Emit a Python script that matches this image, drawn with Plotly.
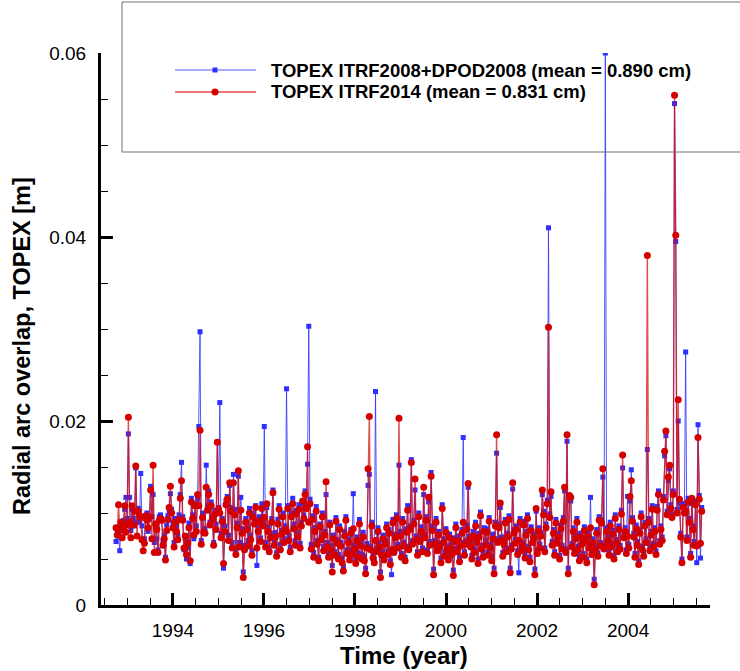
import numpy as np
import plotly.graph_objects as go

# TOPEX arc times: first arc epoch and cycle length (days)
T0_YEAR = 1992.75
CYCLE_DAYS = 9.9156

# Radial arc overlap values in millimetres
red_mm = [
    8.4, 7.6, 10.9, 8.2, 9.0, 7.3, 8.6, 10.8, 7.9, 8.7,
    20.4, 9.0, 7.3, 10.8, 8.7, 10.2, 15.1, 7.5, 10.2, 9.7,
    9.5, 7.1, 5.9, 6.7, 9.7, 9.2, 8.4, 9.6, 12.5, 7.2,
    15.2, 5.7, 8.8, 8.2, 5.7, 9.2, 9.4, 9.2, 6.5, 7.2,
    4.9, 8.1, 9.3, 10.6, 12.9, 10.0, 8.4, 6.3, 9.0, 8.0,
    7.1, 9.3, 11.6, 13.5, 9.2, 6.2, 7.5, 5.5, 6.7, 8.4,
    4.8, 11.2, 9.4, 7.6, 10.8, 8.0, 12.0, 10.8, 19.0, 6.6,
    9.5, 7.9, 7.8, 12.8, 10.3, 12.0, 8.7, 10.8, 9.3, 6.5,
    9.9, 8.2, 17.7, 10.4, 10.0, 7.3, 9.1, 4.5, 8.0, 10.9,
    11.5, 7.0, 13.3, 10.2, 6.2, 13.3, 9.8, 5.5, 8.4, 14.6,
    6.3, 10.3, 7.8, 3.0, 6.0, 9.0, 8.2, 6.4, 10.0, 7.1,
    5.4, 9.5, 8.8, 10.6, 6.2, 8.0, 9.1, 6.9, 10.5, 8.6,
    9.5, 6.3, 11.0, 8.0, 5.8, 7.3, 9.0, 12.2, 6.5, 7.4,
    5.3, 8.8, 10.4, 6.0, 7.7, 9.6, 6.8, 8.2, 8.0, 10.5,
    7.0, 5.8, 9.6, 11.0, 8.3, 6.5, 9.9, 7.4, 10.4, 6.2,
    8.6, 11.3, 9.4, 12.0, 10.5, 17.2, 9.0, 11.0, 6.1, 9.3,
    5.2, 8.0, 10.2, 6.6, 4.8, 8.5, 7.1, 9.6, 5.9, 7.6,
    13.4, 6.3, 5.2, 8.7, 6.0, 3.6, 7.2, 5.4, 9.1, 6.7,
    5.0, 8.2, 6.4, 4.6, 3.7, 7.5, 9.2, 5.6, 6.8, 4.9,
    7.8, 5.5, 8.3, 6.1, 4.5, 7.0, 5.2, 8.8, 6.4, 5.0,
    7.4, 4.8, 3.4, 6.2, 14.8, 20.5, 6.0, 8.6, 5.1, 4.6,
    7.0, 5.8, 8.0, 6.3, 3.0, 5.4, 7.2, 4.9, 6.6, 8.4,
    5.5, 7.8, 4.4, 6.0, 8.9, 5.7, 7.3, 9.4, 6.2, 20.3,
    7.5, 5.2, 9.0, 6.4, 4.8, 7.9, 10.3, 6.0, 8.2, 15.5,
    6.6, 8.8, 13.7, 7.1, 5.4, 9.6, 6.9, 8.0, 5.8, 12.8,
    7.3, 9.2, 5.6, 11.7, 6.5, 14.0, 8.1, 3.3, 6.6, 9.0,
    5.9, 7.6, 6.3, 4.6, 10.5, 6.8, 5.3, 7.9, 6.0, 4.9,
    7.3, 6.2, 5.5, 3.2, 6.9, 8.4, 5.8, 7.0, 4.7, 6.4,
    7.8, 9.0, 5.4, 6.6, 8.2, 13.2, 7.1, 6.3, 5.0, 7.5,
    5.7, 8.6, 6.8, 4.5, 7.4, 9.7, 6.1, 5.2, 8.0, 6.5,
    7.9, 5.4, 9.1, 6.2, 4.8, 7.2, 3.4, 8.6, 18.5, 6.8,
    8.4, 11.1, 7.0, 5.3, 6.6, 8.9, 5.8, 7.4, 9.3, 3.5,
    6.1, 13.3, 7.8, 6.7, 8.2, 5.5, 7.0, 9.0, 5.9, 6.4,
    8.7, 5.1, 7.6, 9.4, 6.0, 4.7, 8.1, 6.8, 7.3, 3.3,
    10.5, 5.6, 8.0, 6.2, 7.5, 12.5, 9.8, 5.8, 8.4, 11.0,
    30.2, 9.5, 12.3, 6.5, 7.8, 5.4, 8.9, 6.7, 7.4, 5.0,
    8.3, 6.1, 9.1, 12.8, 5.7, 18.5, 3.4, 11.9, 11.7, 6.3,
    8.0, 5.6, 7.2, 9.0, 6.0, 4.8, 7.4, 6.6, 5.2, 8.1,
    6.9, 4.6, 7.5, 6.2, 8.4, 5.5, 6.8, 2.2, 6.0, 7.8,
    5.3, 9.2, 6.4, 8.9, 14.8, 6.1, 6.4, 8.0, 7.0, 5.4,
    8.6, 6.3, 7.7, 5.0, 9.4, 6.7, 5.8, 8.2, 6.1, 9.9,
    16.3, 7.3, 8.0, 5.6, 7.5, 6.2, 11.8, 13.5, 9.1, 7.4,
    5.2, 8.3, 6.5, 4.4, 7.8, 9.6, 6.0, 5.3, 8.6, 6.8,
    38.0, 9.0, 5.9, 7.6, 10.4, 6.3, 8.0, 5.5, 10.3, 12.0,
    6.6, 8.2, 7.0, 11.4, 16.7, 18.9, 9.8, 13.9, 15.2, 10.5,
    9.5, 12.0, 55.4, 40.2, 10.0, 22.3, 11.5, 7.4, 4.6, 10.6,
    10.0, 10.2, 7.0, 11.2, 9.0, 5.2, 11.6, 8.2, 6.5, 10.9,
    6.4, 18.2, 11.5, 6.7, 10.2,
]

blue_mm = [
    6.9, 8.0, 7.5, 5.9, 8.7, 8.1, 9.2, 10.4, 11.7, 9.4,
    18.6, 11.7, 8.1, 10.4, 9.4, 8.6, 14.9, 9.0, 10.5, 9.0,
    14.3, 8.6, 7.0, 7.2, 9.4, 10.0, 8.0, 9.3, 12.9, 9.6,
    12.0, 6.8, 8.5, 7.2, 6.0, 9.6, 9.8, 9.4, 7.0, 7.6,
    5.2, 8.7, 9.7, 10.2, 12.1, 10.4, 9.0, 6.8, 9.4, 8.6,
    7.6, 9.8, 12.0, 15.5, 9.6, 6.0, 7.2, 5.0, 6.2, 8.9,
    4.5, 11.6, 9.8, 7.2, 11.0, 8.6, 11.5, 19.4, 29.7, 7.0,
    10.0, 8.2, 8.3, 15.2, 10.8, 12.4, 9.0, 11.2, 9.6, 6.8,
    10.3, 8.8, 17.7, 10.6, 22.0, 7.8, 9.4, 4.0, 8.6, 11.3,
    11.8, 7.6, 13.0, 10.6, 6.8, 14.2, 10.4, 6.0, 8.9, 14.0,
    6.8, 11.7, 8.3, 3.6, 6.5, 9.4, 8.6, 7.0, 10.5, 7.6,
    5.9, 10.0, 9.2, 10.8, 4.3, 8.4, 9.6, 7.3, 11.0, 9.0,
    19.4, 6.8, 10.6, 8.5, 6.2, 7.8, 9.4, 12.5, 6.9, 7.9,
    5.7, 9.3, 10.8, 6.6, 8.1, 10.0, 7.2, 8.6, 23.5, 10.8,
    7.5, 6.3, 10.0, 11.6, 8.8, 7.0, 10.3, 7.9, 10.9, 6.7,
    9.0, 11.0, 9.8, 12.4, 10.9, 15.3, 30.3, 11.5, 6.6, 9.7,
    5.7, 8.4, 10.7, 7.0, 5.2, 8.8, 7.5, 10.0, 6.4, 8.0,
    12.0, 6.8, 5.6, 9.0, 6.5, 4.3, 7.6, 5.8, 9.5, 7.1,
    5.5, 8.6, 6.8, 5.1, 4.2, 8.0, 9.6, 6.0, 7.2, 5.3,
    8.2, 6.0, 12.1, 6.5, 5.0, 7.4, 5.7, 9.3, 6.8, 5.5,
    7.9, 5.3, 4.0, 6.7, 13.0, 14.2, 6.4, 9.0, 5.6, 5.0,
    23.2, 6.2, 8.4, 6.8, 3.6, 5.8, 7.6, 5.3, 7.0, 8.8,
    5.9, 8.2, 4.8, 3.3, 9.3, 6.1, 7.7, 9.8, 6.6, 15.2,
    8.0, 5.6, 9.4, 6.8, 5.2, 8.3, 10.8, 6.4, 8.6, 15.8,
    7.0, 9.2, 12.5, 7.5, 5.8, 10.0, 7.3, 8.5, 6.2, 12.0,
    7.7, 9.6, 6.0, 11.2, 6.9, 14.4, 8.6, 3.9, 7.0, 9.4,
    6.3, 8.0, 6.7, 5.1, 10.9, 7.2, 5.8, 8.3, 6.4, 5.4,
    7.7, 6.6, 5.9, 3.8, 7.3, 8.8, 6.2, 7.5, 5.2, 6.8,
    8.2, 18.2, 5.8, 7.0, 8.7, 12.8, 7.5, 6.8, 5.4, 8.0,
    6.1, 9.0, 7.2, 5.0, 7.8, 10.1, 6.5, 5.7, 8.4, 7.0,
    8.3, 5.8, 9.5, 6.6, 5.3, 7.7, 4.0, 9.0, 16.5, 7.2,
    8.8, 10.6, 7.4, 5.7, 7.0, 9.3, 6.2, 7.8, 9.7, 4.0,
    6.5, 12.6, 8.2, 7.1, 8.6, 5.9, 3.5, 9.4, 6.3, 6.8,
    9.1, 5.6, 8.0, 9.8, 6.4, 5.2, 8.5, 7.2, 7.7, 3.9,
    10.2, 6.0, 8.4, 6.6, 7.9, 12.0, 10.2, 6.2, 8.8, 11.4,
    41.0, 9.9, 11.8, 6.9, 8.2, 5.8, 9.3, 7.1, 7.8, 5.4,
    8.7, 6.5, 9.5, 12.4, 6.1, 17.8, 4.0, 11.5, 11.3, 6.7,
    8.4, 6.0, 7.6, 9.4, 6.4, 5.3, 7.8, 7.0, 5.6, 8.5,
    7.3, 5.0, 7.9, 6.6, 11.7, 5.9, 7.2, 2.8, 6.4, 8.2,
    5.7, 9.6, 6.8, 9.3, 13.9, 6.5, 60.0, 8.4, 7.4, 5.8,
    9.0, 6.7, 8.1, 5.4, 9.8, 7.1, 6.2, 8.6, 6.5, 10.3,
    14.9, 7.7, 8.4, 6.0, 11.8, 6.6, 11.3, 14.7, 9.5, 7.8,
    5.6, 8.7, 6.9, 4.8, 8.2, 10.0, 6.4, 5.7, 9.0, 7.2,
    16.9, 9.4, 6.3, 8.0, 10.8, 6.7, 8.4, 5.9, 10.7, 12.4,
    7.0, 8.6, 7.4, 11.8, 16.2, 18.4, 10.2, 13.5, 14.8, 10.9,
    9.9, 12.4, 54.5, 39.5, 10.4, 20.0, 11.0, 7.8, 5.0, 11.0,
    11.0, 27.5, 7.4, 11.6, 9.4, 5.6, 11.0, 8.6, 6.9, 11.3,
    4.6, 19.6, 11.9, 5.1, 10.6,
]

series_names = [
    "TOPEX ITRF2008+DPOD2008 (mean = 0.890 cm)",
    "TOPEX ITRF2014 (mean = 0.831 cm)",
]
x_title = "Time (year)"
y_title = "Radial arc overlap, TOPEX [m]"

FONT = "Liberation Sans, Arial, Helvetica, sans-serif"
BLUE_LINE = "rgba(55,55,255,0.85)"
BLUE_MARK = "#2f2fff"
RED_LINE = "rgba(212,10,10,0.72)"
RED_MARK = "#d40000"

# figure geometry (pixels) used to place the hand-made legend
W, H = 740, 671
ML, MR, MT, MB = 101, 30, 53, 66
PW, PH = W - ML - MR, H - MT - MB


def px_x(px):
    return (px - ML) / PW


def px_y(py):
    return (H - MB - py) / PH


n = len(red_mm)
t = T0_YEAR + np.arange(n) * CYCLE_DAYS / 365.25
blue_m = np.array(blue_mm) / 1000.0
red_m = np.array(red_mm) / 1000.0

fig = go.Figure()
fig.add_trace(go.Scatter(
    x=t, y=blue_m, mode="lines+markers", name=series_names[0],
    line=dict(color=BLUE_LINE, width=1),
    marker=dict(symbol="square", size=5, color=BLUE_MARK),
    showlegend=False,
))
fig.add_trace(go.Scatter(
    x=t, y=red_m, mode="lines+markers", name=series_names[1],
    line=dict(color=RED_LINE, width=1.4),
    marker=dict(symbol="circle", size=7, color=RED_MARK),
    showlegend=False,
))

axis_common = dict(
    showgrid=False, zeroline=False, showline=True, linewidth=3, linecolor="black",
    ticks="inside", ticklen=12, tickwidth=3, tickcolor="black",
    tickfont=dict(family=FONT, size=19, color="black"),
    mirror=False,
)

# hand-made legend (box, line samples, markers, labels)
shapes = [
    dict(type="rect", xref="paper", yref="paper", x0=px_x(122), x1=px_x(760),
         y0=px_y(152), y1=px_y(2), line=dict(color="#707070", width=1),
         fillcolor="rgba(0,0,0,0)", layer="above"),
]
annotations = []
legend_rows = [
    (70, BLUE_LINE, 1, BLUE_MARK, "rect", 5),
    (92, "rgba(225,60,60,0.7)", 2, RED_MARK, "circle", 7),
]
for (row_y, lcol, lw, mcol, mshape, msize), label in zip(legend_rows, series_names):
    shapes.append(dict(type="line", xref="paper", yref="paper",
                       x0=px_x(175), x1=px_x(256), y0=px_y(row_y), y1=px_y(row_y),
                       line=dict(color=lcol, width=lw), layer="above"))
    h = msize / 2
    shapes.append(dict(type=mshape, xref="paper", yref="paper",
                       x0=px_x(215 - h), x1=px_x(215 + h),
                       y0=px_y(row_y + h), y1=px_y(row_y - h),
                       line=dict(width=0), fillcolor=mcol, layer="above"))
    annotations.append(dict(text=label, xref="paper", yref="paper",
                            x=px_x(269), y=px_y(row_y), xanchor="left", yanchor="middle",
                            showarrow=False,
                            font=dict(family=FONT, size=18.5, color="black", weight="bold")))

annotations += [
    dict(text=y_title, xref="paper", yref="paper", x=px_x(22), y=px_y(346),
         textangle=-90, showarrow=False, xanchor="center", yanchor="middle",
         font=dict(family=FONT, size=23.5, color="black", weight="bold")),
    dict(text=x_title, xref="paper", yref="paper", x=px_x(404), y=px_y(655),
         showarrow=False, xanchor="center", yanchor="middle",
         font=dict(family=FONT, size=24, color="black", weight="bold")),
]

fig.update_layout(
    width=W, height=H,
    margin=dict(l=ML, r=MR, t=MT, b=MB),
    paper_bgcolor="white", plot_bgcolor="white",
    xaxis=dict(range=[1992.42, 2005.8], tick0=1994, dtick=2,
               minor=dict(dtick=0.5, ticklen=7, tickwidth=1, ticks="inside", tickcolor="black"),
               ticklabelstandoff=6, **axis_common),
    yaxis=dict(range=[0, 0.06], tick0=0, dtick=0.02,
               minor=dict(dtick=0.005, ticklen=7, tickwidth=1, ticks="inside", tickcolor="black"),
               ticklabelstandoff=8, **axis_common),
    showlegend=False,
    annotations=annotations,
    shapes=shapes,
)

fig.write_html("out.html")
